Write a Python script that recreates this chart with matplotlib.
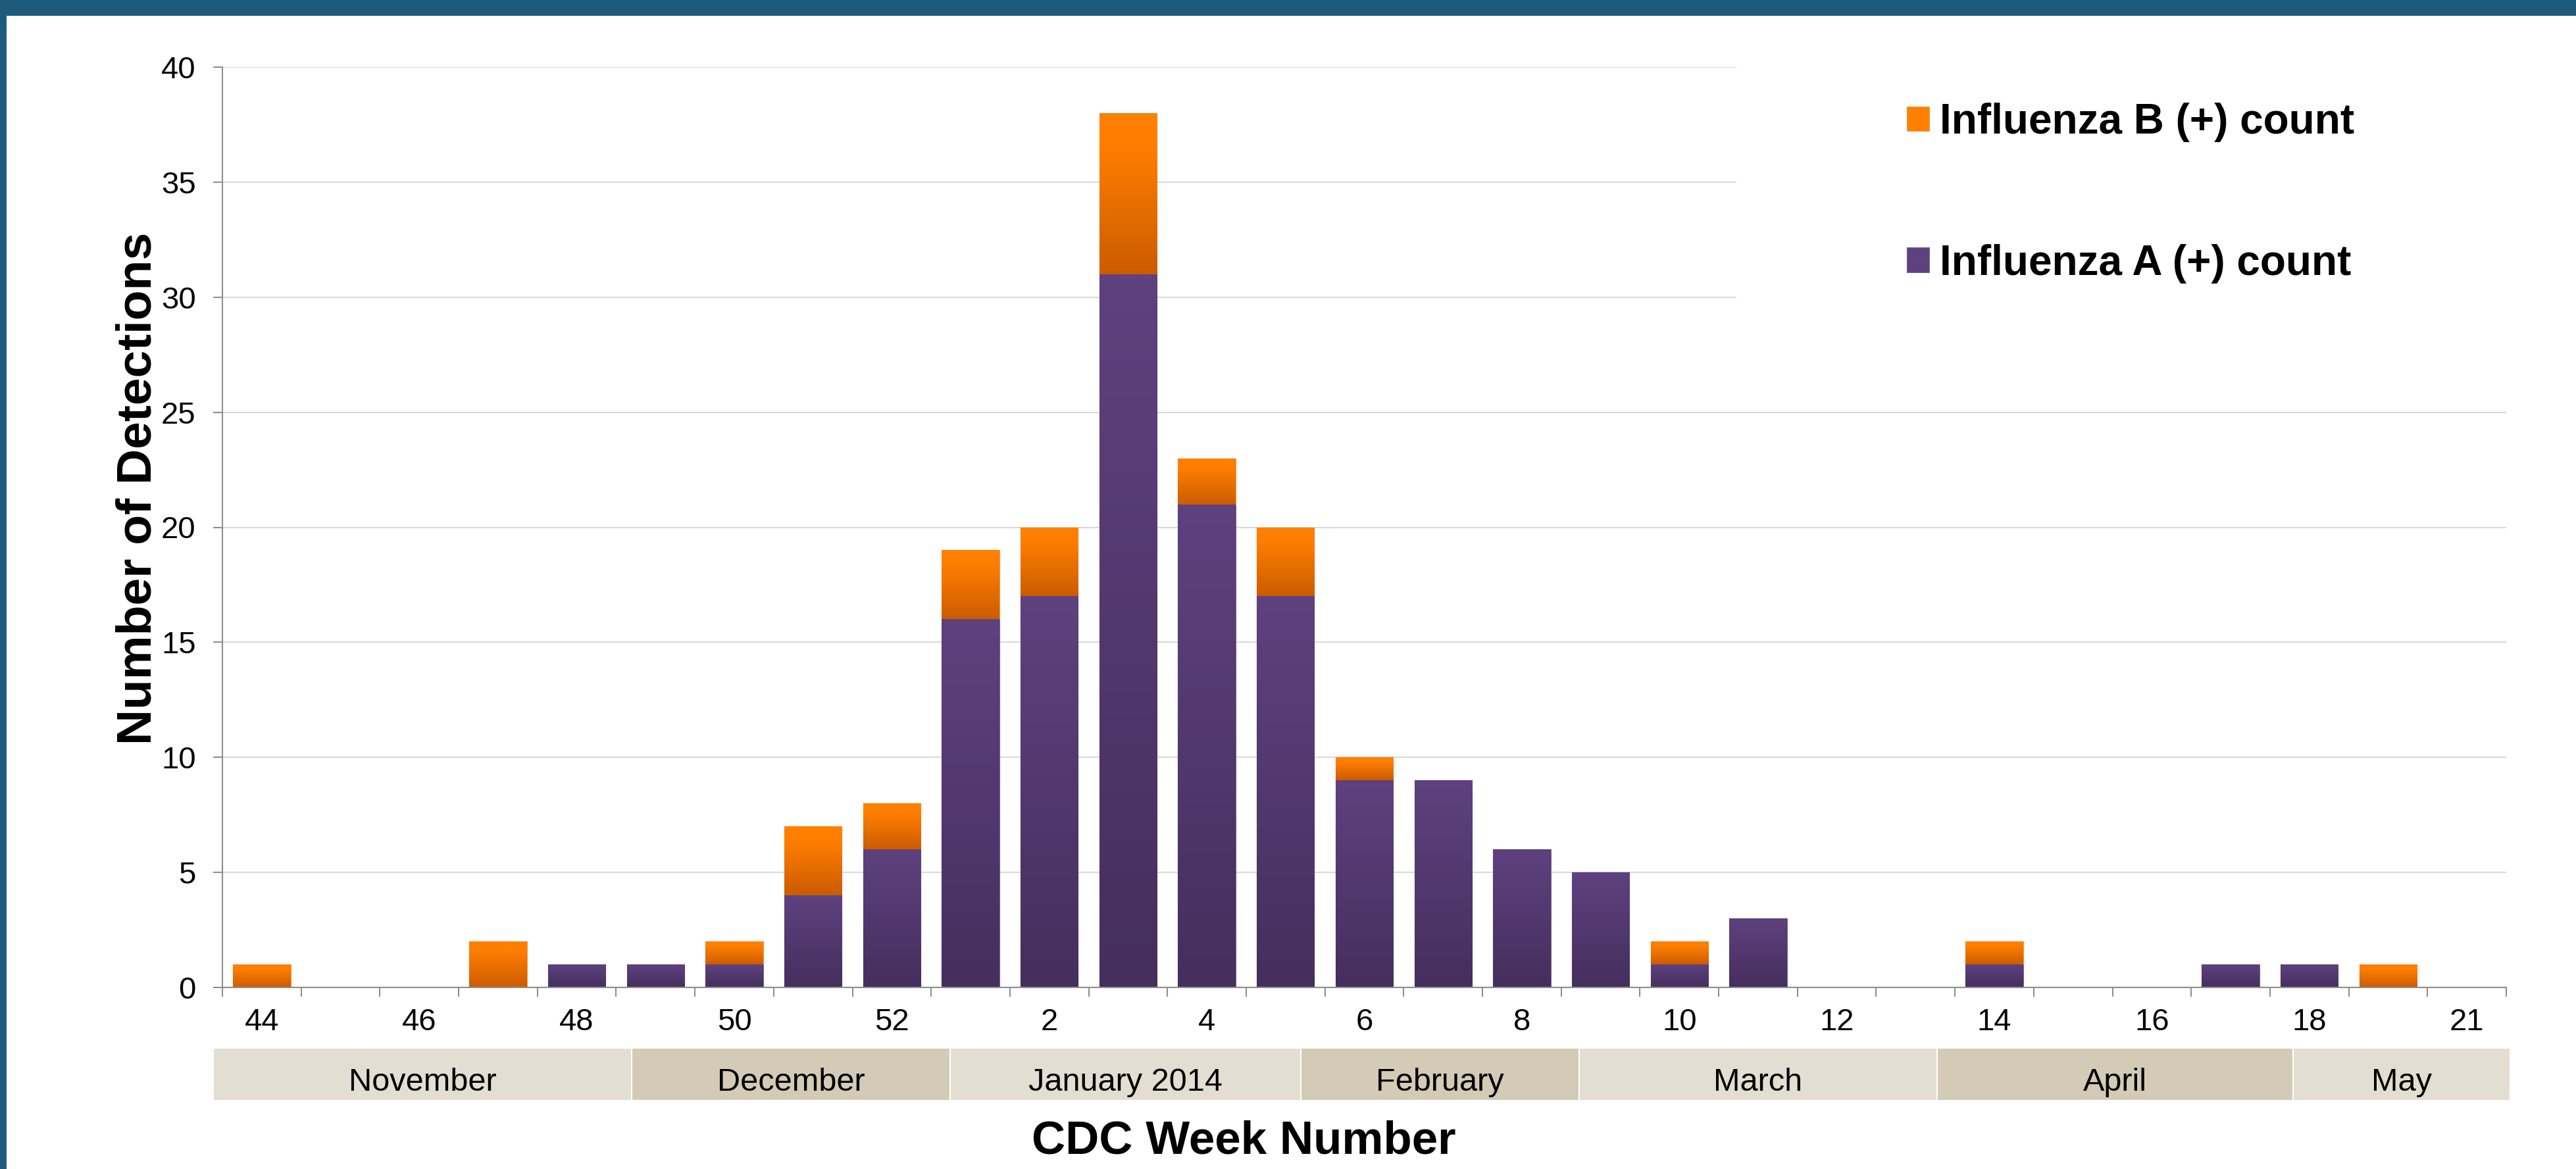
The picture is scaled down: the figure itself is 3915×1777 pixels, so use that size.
import numpy as np
import matplotlib
matplotlib.use("Agg")
import matplotlib.pyplot as plt
from matplotlib.patches import Rectangle
from matplotlib.colors import LinearSegmentedColormap

plt.rcParams['font.family'] = ['Liberation Sans', 'DejaVu Sans']

# data
weeks = [44, 45, 46, 47, 48, 49, 50, 51, 52, 1, 2, 3, 4, 5, 6, 7, 8, 9, 10,
         11, 12, 13, 14, 15, 16, 17, 18, 19, 21]
flu_a = [0, 0, 0, 0, 1, 1, 1, 4, 6, 16, 17, 31, 21, 17, 9, 9, 6, 5, 1,
         3, 0, 0, 1, 0, 0, 1, 1, 0, 0]
flu_b = [1, 0, 0, 2, 0, 0, 1, 3, 2, 3, 3, 7, 2, 3, 1, 0, 0, 0, 1,
         0, 0, 0, 1, 0, 0, 0, 0, 1, 0]

months = ["November", "December", "January 2014", "February", "March", "April", "May"]
# month boundaries in category units (category i is centred on i)
month_edges = [-0.62, 4.70, 8.74, 13.19, 16.73, 21.27, 25.79, 28.55]
month_colors = ["#E3DED2", "#D4CBB6"]

PURPLE_TOP, PURPLE_BOT = "#5E417F", "#452F5D"
ORANGE_TOP, ORANGE_BOT = "#FF8000", "#CC5C00"
GRID = "#D9D9D9"
AXC = "#8E8E8E"

W, H = 3916, 1777
X0, X1 = 338, 3809
fig = plt.figure(figsize=(W / 100, H / 100), dpi=100)
ax = fig.add_axes([X0 / W, 1 - 1501 / H, (X1 - X0) / W, (1501 - 102) / H])

x = np.arange(len(weeks))
bars_a = ax.bar(x, flu_a, width=0.73, color=PURPLE_TOP, edgecolor="#74668A",
                linewidth=0.8, zorder=2, label="Influenza A (+) count")
bars_b = ax.bar(x, flu_b, bottom=flu_a, width=0.73, color=ORANGE_TOP,
                edgecolor="#F59A3C", linewidth=0.8, zorder=2,
                label="Influenza B (+) count")


def shade(container, stops):
    cmap = LinearSegmentedColormap.from_list("g", stops)
    grad = np.linspace(0, 1, 128).reshape(-1, 1)
    for p in container.patches:
        h = p.get_height()
        if h <= 0:
            continue
        x0, y0, w = p.get_x(), p.get_y(), p.get_width()
        im = ax.imshow(grad, cmap=cmap, origin="lower", aspect="auto",
                       extent=[x0, x0 + w, y0, y0 + h], zorder=2.1,
                       interpolation="bilinear")
        im.set_clip_path(p)


shade(bars_a, [PURPLE_BOT, PURPLE_TOP])
shade(bars_b, [(0, ORANGE_BOT), (0.8, "#FF7E00"), (1, ORANGE_TOP)])

ax.set_xlim(-0.5, len(weeks) - 0.5)
ax.set_ylim(0, 40)
ax.set_aspect("auto")
ax.set_yticks(range(0, 41, 5))
ax.grid(axis="y", color=GRID, linewidth=1.5, zorder=0.5)
ax.set_axisbelow(True)

# white area behind the legend hides the upper gridlines
ax.add_patch(Rectangle((0.663, 0.69), 0.35, 0.33, transform=ax.transAxes,
                       facecolor="white", edgecolor="none", zorder=1,
                       clip_on=False))

for s in ["top", "right"]:
    ax.spines[s].set_visible(False)
for s in ["left", "bottom"]:
    ax.spines[s].set_color(AXC)
    ax.spines[s].set_linewidth(1.5)

ax.set_xticks(x[::2])
ax.set_xticklabels([str(w) for w in weeks[::2]])
ax.set_xticks(np.arange(-0.5, len(weeks)), minor=True)
ax.tick_params(axis="x", which="major", length=0, labelsize=34, pad=22)
ax.tick_params(axis="x", which="minor", length=10, width=1.5, color=AXC)
ax.tick_params(axis="y", length=10, width=1.5, color=AXC, labelsize=34, pad=19)

ax.set_ylabel("Number of Detections", fontsize=54, fontweight="bold")
ax.yaxis.set_label_coords(-0.027, 0.542)

ax.legend(handles=[bars_b, bars_a], loc="upper left",
          bbox_to_anchor=(2898 / W, 1 - 156 / H), bbox_transform=fig.transFigure,
          frameon=False, prop={"size": 46, "weight": "bold"},
          handlelength=0.53, handleheight=0.53, handletextpad=0.25,
          labelspacing=2.42, borderpad=0, borderaxespad=0)

# month band under the week numbers
axm = fig.add_axes([X0 / W, 1 - 1673 / H, (X1 - X0) / W, 80 / H])
axm.set_xlim(ax.get_xlim())
axm.set_ylim(0, 1)
axm.axis("off")
lefts = month_edges[:-1]
widths = np.diff(month_edges)
axm.bar(lefts, 1, width=widths, align="edge",
        color=[month_colors[i % 2] for i in range(len(months))],
        edgecolor="white", linewidth=1.5, clip_on=False)
for l, wd, name in zip(lefts, widths, months):
    axm.text(l + wd / 2, 0.19, name, ha="center", va="baseline", fontsize=35)

fig.text(1890 / W, 1 - 1753 / H, "CDC Week Number", ha="center", va="baseline",
         fontsize=51, fontweight="bold")

# dark blue frame at the top and left
fig.patches.append(Rectangle((0, 1 - 24 / H), 1, 24 / H, transform=fig.transFigure,
                             facecolor="#1E5A7C", edgecolor="none"))
fig.patches.append(Rectangle((0, 0), 10 / W, 1, transform=fig.transFigure,
                             facecolor="#1E5A7C", edgecolor="none"))

fig.savefig("out.png", dpi=100, facecolor="white")
